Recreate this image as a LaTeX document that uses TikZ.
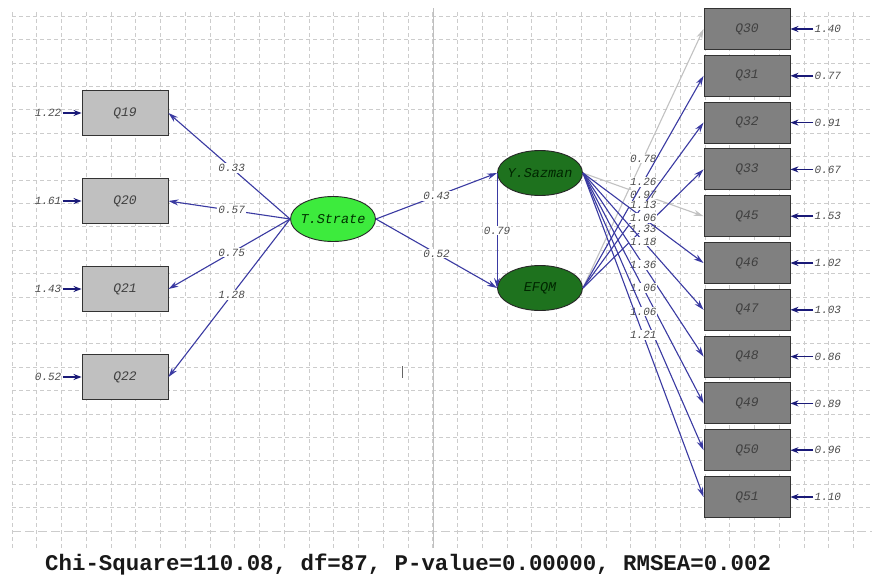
\documentclass[tikz,border=0pt]{standalone}
\usepackage{fontspec}
\setmonofont{Liberation Mono}
\usepackage{tikz}
\usetikzlibrary{positioning,shapes.geometric,arrows.meta}

\definecolor{gridgray}{HTML}{CCCCCC}
\definecolor{pathblue}{HTML}{3A3AA2}
\definecolor{errnavy}{HTML}{1A1A78}
\definecolor{lightbox}{HTML}{C0C0C0}
\definecolor{darkbox}{HTML}{808080}
\definecolor{brightgreen}{HTML}{3DEB3D}
\definecolor{deepgreen}{HTML}{1E721E}
\definecolor{fixedgray}{HTML}{C2C2C2}

\begin{document}
\begin{tikzpicture}[
    x=1pt, y=-1pt,
    obsbox/.style={draw=black!80, line width=0.9pt, rectangle, minimum width=86pt, text=black!75,
        font=\fontsize{13}{15}\selectfont\ttfamily\itshape},
    leftbox/.style={obsbox, fill=lightbox, minimum height=45pt, node distance=88pt},
    rightbox/.style={obsbox, fill=darkbox, minimum height=41pt, node distance=46.8pt},
    latent/.style={draw=black!85, line width=0.9pt, ellipse, minimum width=85pt, minimum height=45pt,
        inner xsep=-10pt, inner ysep=0pt, font=\fontsize{13.5}{15}\selectfont\ttfamily\itshape},
    exolatent/.style={latent, fill=brightgreen, text=black!80!green},
    endolatent/.style={latent, fill=deepgreen, text=black!85!green},
    arrow/.style={-{Stealth[length=10pt,width=6pt]}, pathblue, line width=1.1pt},
    fixedarrow/.style={arrow, fixedgray},
    errarrow/.style={-{Stealth[length=8pt,width=6pt]}, errnavy, line width=1.6pt},
    coef/.style={fill=white, inner sep=1pt, text=black!70, font=\fontsize{11}{12}\selectfont\ttfamily\itshape},
    errlab/.style={inner sep=1pt, text=black!70, font=\fontsize{11}{12}\selectfont\ttfamily\itshape},
    gridline/.style={gridgray, line width=0.6pt, dash pattern=on 4pt off 3pt}
]
\fill[white] (0,0) rectangle (872,574);
\useasboundingbox (0,0) rectangle (872,574);

% background grid
\foreach \gy in {0,...,21}
    \draw[gridline] (12,16+23.4*\gy) -- (872,16+23.4*\gy);
\draw[gridline, dash pattern=on 9pt off 4pt] (12,531) -- (872,531);
\foreach \gx in {0,...,34}
    \draw[gridline] (12+24.75*\gx,12) -- (12+24.75*\gx,550);
\draw[gray!50, line width=0.8pt] (433,8) -- (433,548);
\draw[black!60, line width=1.3pt] (402.5,366) -- (402.5,378);

% observed variables, left
\node[leftbox] (q19) at (125,113) {Q19};
\node[leftbox, below of=q19] (q20) {Q20};
\node[leftbox, below of=q20] (q21) {Q21};
\node[leftbox, below of=q21] (q22) {Q22};

% latent variables
\node[exolatent] (strate) at (333,219) {T.Strate};
\node[endolatent] (sazman) at (540,173) {Y.Sazman};
\node[endolatent] (efqm) at (540,288) {EFQM};

% observed variables, right
\node[rightbox] (q30) at (747,29) {Q30};
\node[rightbox, below of=q30] (q31) {Q31};
\node[rightbox, below of=q31] (q32) {Q32};
\node[rightbox, below of=q32] (q33) {Q33};
\node[rightbox, below of=q33] (q45) {Q45};
\node[rightbox, below of=q45] (q46) {Q46};
\node[rightbox, below of=q46] (q47) {Q47};
\node[rightbox, below of=q47] (q48) {Q48};
\node[rightbox, below of=q48] (q49) {Q49};
\node[rightbox, below of=q49] (q50) {Q50};
\node[rightbox, below of=q50] (q51) {Q51};

% error variances
\node[errlab, left=19pt of q19] (e19) {1.22};
\node[errlab, left=19pt of q20] (e20) {1.61};
\node[errlab, left=19pt of q21] (e21) {1.43};
\node[errlab, left=19pt of q22] (e22) {0.52};
\node[errlab, right=23pt of q30] (e30) {1.40};
\node[errlab, right=23pt of q31] (e31) {0.77};
\node[errlab, right=23pt of q32] (e32) {0.91};
\node[errlab, right=23pt of q33] (e33) {0.67};
\node[errlab, right=23pt of q45] (e45) {1.53};
\node[errlab, right=23pt of q46] (e46) {1.02};
\node[errlab, right=23pt of q47] (e47) {1.03};
\node[errlab, right=23pt of q48] (e48) {0.86};
\node[errlab, right=23pt of q49] (e49) {0.89};
\node[errlab, right=23pt of q50] (e50) {0.96};
\node[errlab, right=23pt of q51] (e51) {1.10};

\draw[errarrow] (e19) -- (q19);
\draw[errarrow] (e20) -- (q20);
\draw[errarrow] (e21) -- (q21);
\draw[errarrow] (e22) -- (q22);
\draw[errarrow] (e30) -- (q30);
\draw[errarrow] (e31) -- (q31);
\draw[errarrow] (e32) -- (q32);
\draw[errarrow] (e33) -- (q33);
\draw[errarrow] (e45) -- (q45);
\draw[errarrow] (e46) -- (q46);
\draw[errarrow] (e47) -- (q47);
\draw[errarrow] (e48) -- (q48);
\draw[errarrow] (e49) -- (q49);
\draw[errarrow] (e50) -- (q50);
\draw[errarrow] (e51) -- (q51);

% loadings and paths
\draw[arrow] (strate.west) -- node[coef, pos=.48] {0.33} (q19.east);
\draw[arrow] (strate.west) -- node[coef, pos=.48] {0.57} (q20.east);
\draw[arrow] (strate.west) -- node[coef, pos=.48] {0.75} (q21.east);
\draw[arrow] (strate.west) -- node[coef, pos=.48] {1.28} (q22.east);

\draw[arrow] (strate.east) -- node[coef] {0.43} (sazman.west);
\draw[arrow] (strate.east) -- node[coef] {0.52} (efqm.west);
\draw[arrow] (sazman.west) -- node[coef] {0.79} (efqm.west);

\draw[fixedarrow] (efqm.east) -- node[coef] {0.78} (q30.west);
\draw[fixedarrow] (sazman.east) -- node[coef] {0.97} (q45.west);
\draw[arrow] (efqm.east) -- node[coef] {1.26} (q31.west);
\draw[arrow] (efqm.east) -- node[coef] {1.13} (q32.west);
\draw[arrow] (efqm.east) -- node[coef] {1.33} (q33.west);
\draw[arrow] (sazman.east) -- node[coef] {1.06} (q46.west);
\draw[arrow] (sazman.east) -- node[coef] {1.18} (q47.west);
\draw[arrow] (sazman.east) -- node[coef] {1.36} (q48.west);
\draw[arrow] (sazman.east) -- node[coef] {1.06} (q49.west);
\draw[arrow] (sazman.east) -- node[coef] {1.06} (q50.west);
\draw[arrow] (sazman.east) -- node[coef] {1.21} (q51.west);

% fit statistics
\node[anchor=west, inner sep=0pt, text=black!90, font=\fontsize{22.4}{24}\selectfont\ttfamily\bfseries]
    (fit) at (45,565) {Chi-Square=110.08, df=87, P-value=0.00000, RMSEA=0.002};
\end{tikzpicture}
\end{document}
